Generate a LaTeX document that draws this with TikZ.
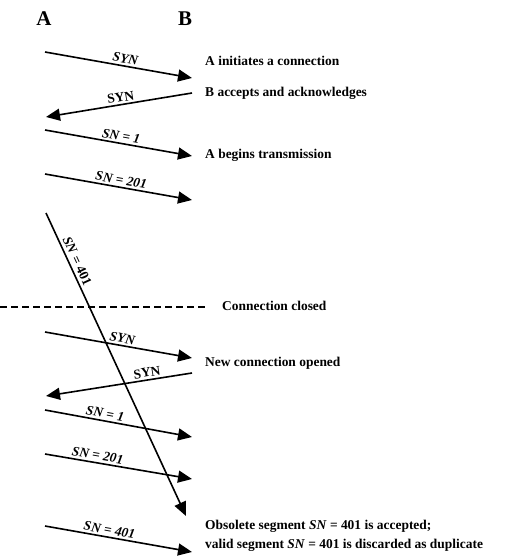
\documentclass[tikz,border=0pt]{standalone}
\usepackage{fontspec}
\setmainfont{Liberation Serif}
\usetikzlibrary{arrows.meta, positioning, calc}
\tikzset{
    seqhead/.style={font=\bfseries\fontsize{21}{24}\selectfont, inner sep=0pt},
    seqarrow/.style={-{Triangle[length=14bp, width=12bp]}, line width=1.6bp},
    seqlabel/.style={font=\bfseries\fontsize{13.5}{16}\selectfont, sloped, above, inner sep=2bp},
    seqnote/.style={font=\bfseries\fontsize{13.5}{19}\selectfont, anchor=west, align=left, inner sep=0pt},
    seqclose/.style={dash pattern=on 7bp off 4bp, line width=1.4bp}
}
\newcommand{\segno}[1]{\textit{SN = #1}}

\begin{document}
\begin{tikzpicture}[x=1bp, y=-1bp]
  \useasboundingbox (0,0) rectangle (508,559);
  \node[seqhead] (hostA) at (44,19) {A};
  \node[seqhead] (hostB) at (185,19) {B};

  % first connection
  \coordinate (s1) at (45,52);   \coordinate (e1) at (192,78);
  \coordinate (s2) at (192,93);  \coordinate (e2) at (46,117);
  \coordinate (s3) at (45,130);  \coordinate (e3) at (192,156);
  \coordinate (s4) at (45,174);  \coordinate (e4) at (192,200);
  \draw[seqarrow] (s1) -- node[seqlabel, pos=0.54] {\textit{SYN}} (e1);
  \draw[seqarrow] (s2) -- node[seqlabel, pos=0.48] {SYN} (e2);
  \draw[seqarrow] (s3) -- node[seqlabel, pos=0.51] {\segno{1}} (e3);
  \draw[seqarrow] (s4) -- node[seqlabel, pos=0.51] {\segno{201}} (e4);
  \node[seqnote] (initA) at (205,61) {A initiates a connection};
  \node[seqnote] (accB) at (205,93) {B accepts and acknowledges};
  \node[seqnote] (beginA) at (205,155) {A begins transmission};

  % delayed segment
  \coordinate (old) at (46,213); \coordinate (oldend) at (186,516);
  \draw[seqarrow] (old) -- node[seqlabel, pos=0.17, inner sep=3bp] {\textit{SN} = 401} (oldend);

  % close
  \coordinate (cl) at (0,307); \coordinate (cr) at (208,307);
  \draw[seqclose] (cl) -- (cr);
  \node[seqnote] (closed) at (222,306) {Connection closed};

  % second connection
  \coordinate (s5) at (45,332);  \coordinate (e5) at (192,358);
  \coordinate (s6) at (192,373); \coordinate (e6) at (46,396);
  \coordinate (s7) at (45,410);  \coordinate (e7) at (192,437);
  \coordinate (s8) at (45,454);  \coordinate (e8) at (192,479);
  \coordinate (s9) at (45,526);  \coordinate (e9) at (192,552);
  \draw[seqarrow] (s5) -- node[seqlabel, pos=0.52] {\textit{SYN}} (e5);
  \draw[seqarrow] (s6) -- node[seqlabel, pos=0.3] {SYN} (e6);
  \draw[seqarrow] (s7) -- node[seqlabel, pos=0.4] {\segno{1}} (e7);
  \draw[seqarrow] (s8) -- node[seqlabel, pos=0.35] {\segno{201}} (e8);
  \draw[seqarrow] (s9) -- node[seqlabel, pos=0.43] {\segno{401}} (e9);
  \node[seqnote] (opened) at (205,363) {New connection opened};
  \node[seqnote, anchor=north west] (obsolete) at (205,520)
    {Obsolete segment \textit{SN} = 401 is accepted;\\
     valid segment \textit{SN} = 401 is discarded as duplicate};
\end{tikzpicture}
\end{document}
